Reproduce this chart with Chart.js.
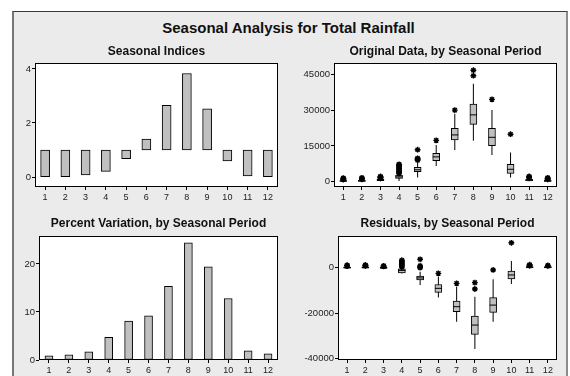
<!DOCTYPE html>
<html>
<head>
<meta charset="utf-8">
<script src="https://cdn.jsdelivr.net/npm/chart.js@4.4.0/dist/chart.umd.min.js"></script>
<style>
  html, body { margin: 0; padding: 0; background: #fff; width: 570px; height: 376px; overflow: hidden; }
  #frame { position: absolute; left: 12px; top: 11px; width: 552px; height: 380px; background: #ebebeb;
           border-top: 1px solid #3a3a3a; border-left: 2px solid #767676; border-right: 2px solid #8c8c8c; }
  #mainTitle { position: absolute; left: 0; top: 19px; width: 577px; line-height: 18px; text-align: center;
               font: bold 15px "Liberation Sans", Arial, sans-serif; color: #111; }
  canvas { position: absolute; }
</style>
</head>
<body>
<div id="frame"></div>
<div id="mainTitle">Seasonal Analysis for Total Rainfall</div>
<canvas id="cIndex" width="272" height="167" style="left:14px;top:40px"></canvas>
<canvas id="cOrig" width="265" height="167" style="left:300px;top:40px"></canvas>
<canvas id="cPct" width="272" height="162" style="left:14px;top:214px"></canvas>
<canvas id="cResid" width="265" height="162" style="left:300px;top:214px"></canvas>
<script>
const months = ['1', '2', '3', '4', '5', '6', '7', '8', '9', '10', '11', '12'];

// Seasonal indices, drawn as bars floating from 1
const seasonalIndex = [0.01, 0.01, 0.08, 0.21, 0.68, 1.40, 2.65, 3.83, 2.52, 0.60, 0.04, 0.01];
const indexTicks = [0, 2, 4];

// Percent variation per period
const percentVariation = [0.85, 1.1, 1.7, 4.7, 8.1, 9.2, 15.35, 24.4, 19.4, 12.8, 1.9, 1.3];
const percentTicks = [0, 10, 20];

// Original data, box-plot summary per period
const origLow    = [0, 0, 100, 300, 1800, 6600, 13300, 17200, 11200, 1800, 0, 0];
const origQ1     = [100, 100, 400, 1400, 4200, 8800, 17500, 24000, 15100, 3500, 300, 100];
const origMedian = [300, 300, 800, 2000, 5000, 10400, 19600, 28000, 18600, 5200, 600, 300];
const origQ3     = [500, 600, 1200, 2800, 6000, 11900, 22400, 32500, 22400, 7300, 1000, 600];
const origHigh   = [800, 900, 1600, 3000, 8000, 15400, 28500, 41000, 30000, 12200, 1500, 900];
const origOutliers = [
  [900, 1100, 1300, 1500],
  [1000, 1200, 1400, 1600],
  [1600, 1800, 2000, 2200],
  [3400, 3900, 4400, 4900, 5400, 5900, 6400, 6900, 7300],
  [9000, 9400, 9800, 13400],
  [17300],
  [30000],
  [44400, 46700],
  [34500],
  [19900],
  [1600, 1800, 2000, 2200],
  [1000, 1200, 1400, 1600]
];
const origTicks = [0, 15000, 30000, 45000];

// Residuals, box-plot summary per period
const residLow    = [-400, -400, -500, -2600, -7600, -13100, -23800, -35900, -23800, -7200, -300, -200];
const residQ1     = [-200, -200, -300, -2300, -5400, -10900, -19400, -29400, -19700, -5000, -100, -100];
const residMedian = [0, 100, 0, -1200, -4500, -9100, -17200, -25300, -16500, -3200, 200, 200];
const residQ3     = [300, 400, 300, -500, -3700, -7400, -14700, -21300, -13200, -1500, 500, 500];
const residHigh   = [600, 700, 500, 0, -1800, -4000, -8400, -12800, -5100, 3000, 800, 700];
const residOutliers = [
  [700, 900, 1100],
  [800, 1000, 1200],
  [600, 800],
  [300, 800, 1300, 1800, 2300, 2800, 3300],
  [0, 400, 800, 3700],
  [-2500],
  [-6900],
  [-9400, -6600],
  [-1000],
  [11000],
  [900, 1100, 1300],
  [800, 1000]
];
const residTicks = [0, -20000, -40000];

const FONT = "'Liberation Sans', Arial, sans-serif";
const NARROW = "'Liberation Sans Narrow', 'Liberation Sans', Arial, sans-serif";
const BAR_FILL = '#c0c0c0';

// White plot background and a closed black frame around each plot area
const plotArea = {
  id: 'plotArea',
  beforeDraw(chart) {
    const { ctx, chartArea: a } = chart;
    ctx.save();
    ctx.fillStyle = '#fff';
    ctx.fillRect(a.left, a.top, a.right - a.left, a.bottom - a.top);
    ctx.restore();
  },
  afterDraw(chart) {
    const { ctx, chartArea: a } = chart;
    ctx.save();
    ctx.strokeStyle = '#000';
    ctx.lineWidth = 1;
    ctx.strokeRect(a.left + 0.5, a.top + 0.5, a.right - a.left - 1, a.bottom - a.top - 1);
    ctx.restore();
  }
};

function yAxis(min, max, ticks, width) {
  return {
    type: 'linear', min, max,
    afterFit(s) { s.width = width; },
    afterBuildTicks(s) { s.ticks = ticks.map(v => ({ value: v })); },
    grid: { display: true, drawOnChartArea: false, drawTicks: true, tickLength: 3, color: '#000' },
    border: { display: false },
    ticks: { color: '#222', padding: 1, font: { family: NARROW, size: 9.5 }, callback: v => String(v) }
  };
}

function xAxis(height) {
  return {
    type: 'category', offset: true,
    afterFit(s) { s.height = height; },
    grid: { display: true, offset: false, drawOnChartArea: false, drawTicks: true, tickLength: 3, color: '#000' },
    border: { display: false },
    ticks: { color: '#222', padding: 2, font: { family: FONT, size: 9 }, maxRotation: 0, autoSkip: false }
  };
}

function titleOpts(text, top, bottom) {
  return {
    display: true, text, fullSize: false, color: '#111',
    font: { family: FONT, size: 12, weight: 'bold', lineHeight: '14px' },
    padding: { top, bottom }
  };
}

function baseOptions(title, x, y) {
  return {
    responsive: false, animation: false, devicePixelRatio: 1, events: [],
    layout: { padding: { left: 0, right: 8, top: 0, bottom: 0 } },
    plugins: { legend: { display: false }, tooltip: { enabled: false }, title },
    scales: { x, y }
  };
}

function plainBars(data, thickness) {
  return {
    type: 'bar', data, barThickness: thickness, backgroundColor: BAR_FILL,
    borderColor: '#000', borderWidth: 1, borderSkipped: false
  };
}

function boxPlotDatasets(low, q1, median, q3, high, outliers) {
  const points = outliers.flatMap((vals, i) => vals.map(v => ({ x: months[i], y: v })));
  return [
    { type: 'line', data: points, showLine: false, pointStyle: 'star', pointRadius: 2.9,
      pointBorderColor: '#000', pointBackgroundColor: '#000', pointBorderWidth: 1.4, order: 0 },
    { type: 'line', data: median, showLine: false, pointStyle: 'line', pointRadius: 3.5,
      pointBorderColor: '#000', pointBorderWidth: 1, order: 1 },
    { type: 'bar', data: q1.map((v, i) => [v, q3[i]]), grouped: false, barThickness: 7,
      backgroundColor: BAR_FILL, borderColor: '#000', borderWidth: 1, borderSkipped: false, order: 2 },
    { type: 'bar', data: low.map((v, i) => [v, high[i]]), grouped: false, barThickness: 1,
      inflateAmount: 0, backgroundColor: '#000', borderWidth: 0, order: 3 }
  ];
}

new Chart(document.getElementById('cIndex'), {
  type: 'bar',
  data: { labels: months, datasets: [plainBars(seasonalIndex.map(v => [1, v]), 9)] },
  options: baseOptions(titleOpts('Seasonal Indices', 5, 4), xAxis(20), yAxis(-0.37, 4.22, indexTicks, 21)),
  plugins: [plotArea]
});

new Chart(document.getElementById('cOrig'), {
  type: 'bar',
  data: { labels: months, datasets: boxPlotDatasets(origLow, origQ1, origMedian, origQ3, origHigh, origOutliers) },
  options: baseOptions(titleOpts('Original Data, by Seasonal Period', 5, 4), xAxis(20), yAxis(-2220, 49730, origTicks, 34)),
  plugins: [plotArea]
});

new Chart(document.getElementById('cPct'), {
  type: 'bar',
  data: { labels: months, datasets: [plainBars(percentVariation, 8)] },
  options: baseOptions(titleOpts('Percent Variation, by Seasonal Period', 3, 5), xAxis(16), yAxis(0, 25.8, percentTicks, 25)),
  plugins: [plotArea]
});

new Chart(document.getElementById('cResid'), {
  type: 'bar',
  data: { labels: months, datasets: boxPlotDatasets(residLow, residQ1, residMedian, residQ3, residHigh, residOutliers) },
  options: baseOptions(titleOpts('Residuals, by Seasonal Period', 3, 5), xAxis(16), yAxis(-40720, 13990, residTicks, 38)),
  plugins: [plotArea]
});
</script>
</body>
</html>
